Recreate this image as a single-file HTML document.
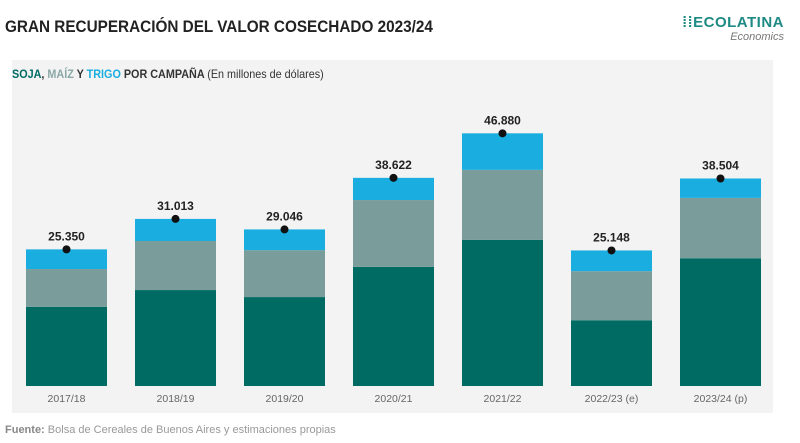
<!DOCTYPE html>
<html><head><meta charset="utf-8"><style>
body{margin:0;width:800px;height:443px;background:#fff;font-family:"Liberation Sans",sans-serif;overflow:hidden;position:relative}
#title{position:absolute;left:5px;top:17px;font-size:17px;font-weight:bold;color:#222;transform:scaleX(0.9);transform-origin:left}
#logo{position:absolute;right:16px;top:14px;text-align:right;color:#1f8a84;font-size:15px;font-weight:bold;letter-spacing:0.5px}
#logo i{display:block;font-weight:normal;font-size:11px;color:#777;letter-spacing:0}
#panel{position:absolute;left:12px;top:60px;width:761px;height:353px;background:#f3f3f3}
#sub{position:absolute;left:12px;top:67px;font-size:12px;font-weight:bold;color:#333;transform:scaleX(0.9);transform-origin:left}
#src{position:absolute;left:5px;top:424px;font-size:11px;color:#999}
svg{position:absolute;left:0;top:0}
</style></head><body>
<div id="title">GRAN RECUPERACIÓN DEL VALOR COSECHADO 2023/24</div>
<div id="logo">⁞⁞ECOLATINA<i>Economics</i></div>
<div id="panel"></div>
<div id="sub"><span style="color:#006b63">SOJA</span>, <span style="color:#8aa8a6">MAÍZ</span> Y <span style="color:#1aaee0">TRIGO</span> POR CAMPAÑA <span style="font-weight:normal">(En millones de dólares)</span></div>
<svg id="chart" width="800" height="443"></svg>
<div id="src"><b style="color:#888">Fuente:</b> Bolsa de Cereales de Buenos Aires y estimaciones propias</div>
<script>
const categories=["2017/18","2018/19","2019/20","2020/21","2021/22","2022/23 (e)","2023/24 (p)"];
const soja=[14.7,17.8,16.5,22.1,27.1,12.2,23.7];
const maiz=[7.0,9.1,8.7,12.4,13.0,9.1,11.2];
const trigo=[3.65,4.1,3.85,4.12,6.78,3.85,3.6];
const totals=["25.350","31.013","29.046","38.622","46.880","25.148","38.504"];
const svg=document.getElementById('chart');
const NS='http://www.w3.org/2000/svg';
const base=386, k=5.39, x0=26, step=109, bw=81;
const y=v=>base-v*k;
function mk(t,a){const e=document.createElementNS(NS,t);for(const q in a)e.setAttribute(q,a[q]);svg.appendChild(e);return e;}
categories.forEach((c,i)=>{
  const x=x0+i*step;
  const segs=[[soja[i],'#006b63','soja'],[maiz[i],'#7a9c9a','maiz'],[trigo[i],'#1aaee0','trigo']];
  let cum=0;
  segs.forEach(s=>{
    const r=mk('rect',{x:x,y:y(cum+s[0]),width:bw,height:s[0]*k,fill:s[1]});
    
    
    cum+=s[0];
  });
  const d=mk('circle',{cx:x+bw/2,cy:y(cum),r:4,fill:'#111'});
  
  
  const t=mk('text',{x:x+bw/2,y:y(cum)-9,'text-anchor':'middle','font-size':12,'font-weight':'bold',fill:'#222'});
  t.textContent=totals[i];
  
  
  const l=mk('text',{x:x+bw/2,y:base+16,'text-anchor':'middle','font-size':10.5,fill:'#666'});
  l.textContent=c;
  
  
});
</script>
</body></html>
